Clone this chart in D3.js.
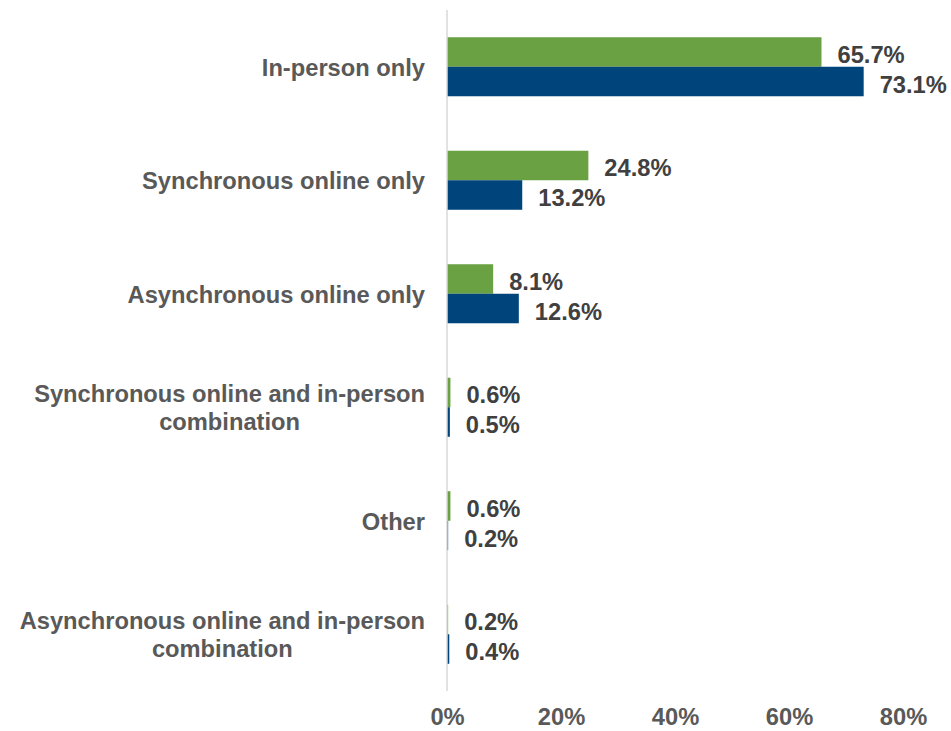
<!DOCTYPE html>
<html>
<head>
<meta charset="utf-8">
<script src="https://cdn.jsdelivr.net/npm/d3@7"></script>
<style>
  html, body { margin: 0; padding: 0; background: #ffffff; }
  svg { display: block; font-family: "Liberation Sans", Arial, sans-serif; }
</style>
</head>
<body>
<svg id="chart" width="951" height="731"></svg>
<script>
const categories = [
  "In-person only",
  "Synchronous online only",
  "Asynchronous online only",
  "Synchronous online and in-person combination",
  "Other",
  "Asynchronous online and in-person combination"
];
const seriesNames = ["Series A", "Series B"];
const seriesA = [65.7, 24.8, 8.1, 0.6, 0.6, 0.2];
const seriesB = [73.1, 13.2, 12.6, 0.5, 0.2, 0.4];
const tickValues = [0, 20, 40, 60, 80];
const colors = ["#6AA143", "#00447C"];

const FS = 23.7;
const svg = d3.select("#chart");
const x = d3.scaleLinear().domain([0, 80]).range([447, 903]);
const y = d3.scaleBand().domain(categories).range([10, 691]).paddingInner(0.48).paddingOuter(0.24);
const ySub = d3.scaleBand().domain(seriesNames).range([0, y.bandwidth()]);

const rows = categories.map((c, i) => ({ cat: c, vals: [seriesA[i], seriesB[i]] }));

// bars
const g = svg.append("g");
rows.forEach(r => {
  r.vals.forEach((v, j) => {
    const yy = y(r.cat) + ySub(seriesNames[j]);
    g.append("rect")
      .attr("x", x(0))
      .attr("y", yy)
      .attr("width", x(v) - x(0))
      .attr("height", ySub.bandwidth())
      .attr("fill", colors[j]);
    g.append("text")
      .attr("x", x(v) + 16)
      .attr("y", yy + ySub.bandwidth() / 2 + 3)
      .attr("dominant-baseline", "central")
      .attr("font-size", FS)
      .attr("font-weight", "bold")
      .attr("fill", "#404040")
      .text(v.toFixed(1) + "%");
  });
});

// axis line
svg.append("line")
  .attr("x1", x(0)).attr("x2", x(0))
  .attr("y1", 10).attr("y2", 691)
  .attr("stroke", "#d9d9d9").attr("stroke-width", 1.5);

// x axis tick labels
const xAxis = d3.axisBottom(x).tickValues(tickValues).tickSize(0).tickFormat(d => d + "%");
const ax = svg.append("g").attr("transform", "translate(0,705)").call(xAxis);
ax.select(".domain").remove();
ax.selectAll("text")
  .attr("font-size", FS)
  .attr("font-weight", "bold")
  .attr("fill", "#595959")
  .attr("font-family", "Liberation Sans, Arial, sans-serif");

// category labels with wrapping
const maxW = 418;
const rightEdge = 425;
const lineH = 28;
categories.forEach(c => {
  const t = svg.append("text")
    .attr("font-size", FS)
    .attr("font-weight", "bold")
    .attr("fill", "#595959")
    .attr("text-anchor", "middle");
  const words = c.split(" ");
  const lines = [];
  let cur = [];
  const probe = t.append("tspan");
  words.forEach(w => {
    const test = cur.concat([w]).join(" ");
    probe.text(test);
    if (probe.node().getComputedTextLength() > maxW && cur.length) {
      lines.push(cur.join(" "));
      cur = [w];
    } else {
      cur.push(w);
    }
  });
  lines.push(cur.join(" "));
  let widest = 0;
  lines.forEach(l => { probe.text(l); widest = Math.max(widest, probe.node().getComputedTextLength()); });
  probe.remove();
  const cx = rightEdge - widest / 2;
  const cy = y(c) + y.bandwidth() / 2 + 1;
  const startY = cy - (lines.length - 1) * lineH / 2;
  lines.forEach((l, i) => {
    t.append("tspan")
      .attr("x", cx)
      .attr("y", startY + i * lineH)
      .attr("dominant-baseline", "central")
      .text(l);
  });
});
</script>
</body>
</html>
